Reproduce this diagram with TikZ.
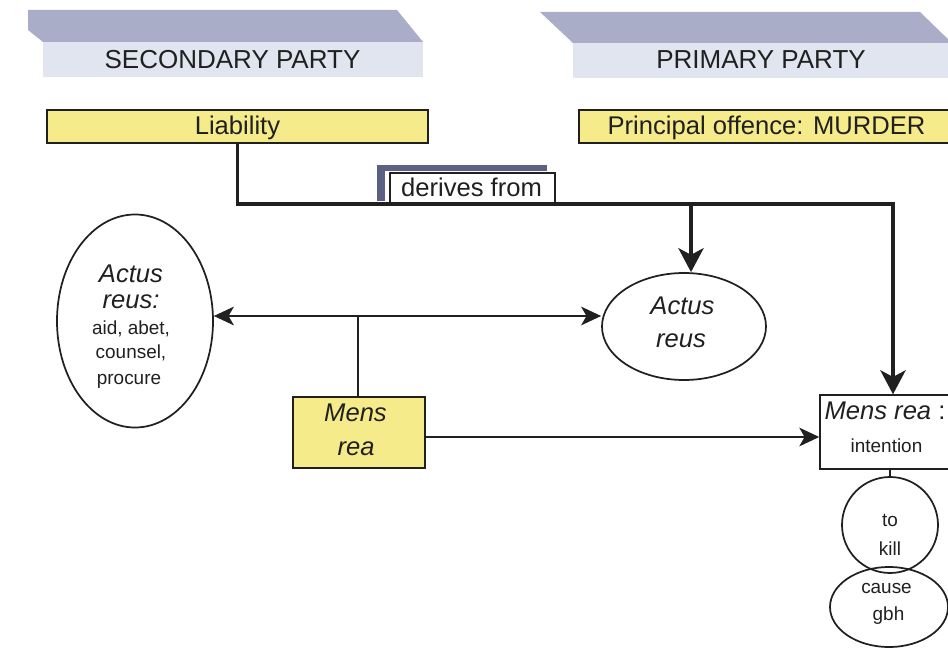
\documentclass[tikz,border=0pt]{standalone}
\usepackage{fontspec}
\setmainfont{Liberation Sans}
\newcommand\lawhead{\fontsize{19.5}{22}\selectfont}
\newcommand\lawbig{\fontsize{19.2}{22}\selectfont}
\newcommand\lawsmall{\fontsize{14.2}{17}\selectfont}
\usetikzlibrary{arrows.meta,shapes.geometric}
\definecolor{inkc}{RGB}{32,32,32}
\definecolor{bartop}{RGB}{170,173,200}
\definecolor{barfront}{RGB}{224,229,240}
\definecolor{legal}{RGB}{245,235,138}
\definecolor{tabshade}{RGB}{92,96,130}
\tikzset{
  vbarb/.tip={Stealth[length=18pt,width=19pt,inset=5pt]},
  hbarb/.tip={Stealth[length=15pt,width=14pt,inset=4pt]},
}
\begin{document}
\begin{tikzpicture}[x=0.75pt,y=-0.75pt,
  hdr/.style={font=\lawhead,text=inkc,inner sep=0pt,anchor=base},
  txt/.style={font=\lawbig,text=inkc,inner sep=0pt,anchor=base},
  txti/.style={font={\lawbig\itshape},text=inkc,inner sep=0pt,anchor=base},
  txts/.style={font=\lawsmall,text=inkc,inner sep=0pt,anchor=base},
  legalbox/.style={draw=inkc,line width=1.1pt,fill=legal,inner sep=0pt,font=\lawbig,text=inkc,text height=12pt,text depth=0pt},
  plainbox/.style={draw=inkc,line width=1.1pt,fill=white,inner sep=0pt},
  oval/.style={ellipse,draw=inkc,line width=1.3pt,inner sep=0pt},
  roundel/.style={circle,draw=inkc,line width=1.3pt,inner sep=0pt},
  trunk/.style={draw=inkc,line width=2.4pt},
  link/.style={draw=inkc,line width=1.5pt},
  stem/.style={draw=inkc,line width=1.1pt},
]
\clip (0,0) rectangle (948,648);
\fill[white] (0,0) rectangle (948,648);

% party banners: slanted top face over a flat front face
\fill[bartop] (28,10) -- (397,10) -- (423,42) -- (43,42) -- (28,30) -- cycle;
\fill[barfront] (43,42) rectangle (423,77);
\fill[bartop] (540,12) -- (920,12) -- (952,43) -- (573,43) -- cycle;
\fill[barfront] (573,43) rectangle (952,78);
\node[hdr] (sec) at (232.5,68.3) {SECONDARY PARTY};
\node[hdr] (pri) at (761,68.3) {PRIMARY PARTY};

% heading boxes
\node[legalbox,minimum width=285.75pt,minimum height=24.75pt] (liab) at (237.5,126.5) {Liability};
\node[legalbox,minimum width=281.25pt,minimum height=24.75pt] (prin) at (766.5,126.5) {Principal offence: MURDER};

% "derives from" tab with its shaded edges
\fill[tabshade] (377,165) rectangle (547,171);
\fill[tabshade] (377,171) rectangle (385,201);
\node[plainbox,minimum width=123.75pt,minimum height=23.25pt] (der) at (472.5,188.5) {};
\node[txt] (dert) at (471.5,197) {derives from};

% actus reus ovals
\node[oval,minimum width=117pt,minimum height=159.75pt] (aL) at (135,321) {};
\node[txti] (aLa) at (131,282) {Actus};
\node[txti] (aLb) at (131,308) {reus:};
\node[txts] (aLc) at (131,334) {aid, abet,};
\node[txts] (aLd) at (131,358) {counsel,};
\node[txts] (aLe) at (129,384) {procure};

\node[oval,minimum width=123pt,minimum height=80.25pt] (aR) at (684,326.5) {};
\node[txti] (aRa) at (682.5,315) {Actus};
\node[txti] (aRb) at (681,347) {reus};

% mens rea boxes
\node[legalbox,minimum width=99pt,minimum height=53.25pt] (mS) at (359,432.5) {};
\node[txti] (mSa) at (355.5,421.7) {Mens};
\node[txti] (mSb) at (356,455) {rea};

\node[plainbox,minimum width=99pt,minimum height=55.5pt] (mP) at (886,432) {};
\node[txt] (mPa) at (885,419) {\textit{Mens rea} :};
\node[txts] (mPb) at (886.5,452) {intention};

% intention: to kill / cause gbh
\node[roundel,minimum size=72pt] (tk) at (890,525) {};
\node[txts] (tka) at (890,526.7) {to};
\node[txts] (tkb) at (890,555) {kill};
\node[oval,minimum width=88.5pt,minimum height=60pt] (gb) at (889,607) {};
\node[txts] (gba) at (886.5,593) {cause};
\node[txts] (gbb) at (888.5,620) {gbh};

% connectors
\coordinate (elbow) at (893,204);
\coordinate (fork) at (691,204);
\coordinate (cross) at (358,316);
\coordinate (mlevel) at (0,437);
\draw[trunk,-vbarb] (liab.south) |- (elbow) -- (elbow |- mP.north);
\draw[trunk,-vbarb] (fork) -- (fork |- aR.north);
\draw[link,hbarb-hbarb] (aL.east |- cross) -- (aR.west |- cross);
\draw[link] (mS.north -| cross) -- (cross);
\draw[link,-hbarb] (mS.east |- mlevel) -- (mP.west |- mlevel);
\draw[stem] (tk.north |- mP.south) -- (tk.north);
\end{tikzpicture}
\end{document}
